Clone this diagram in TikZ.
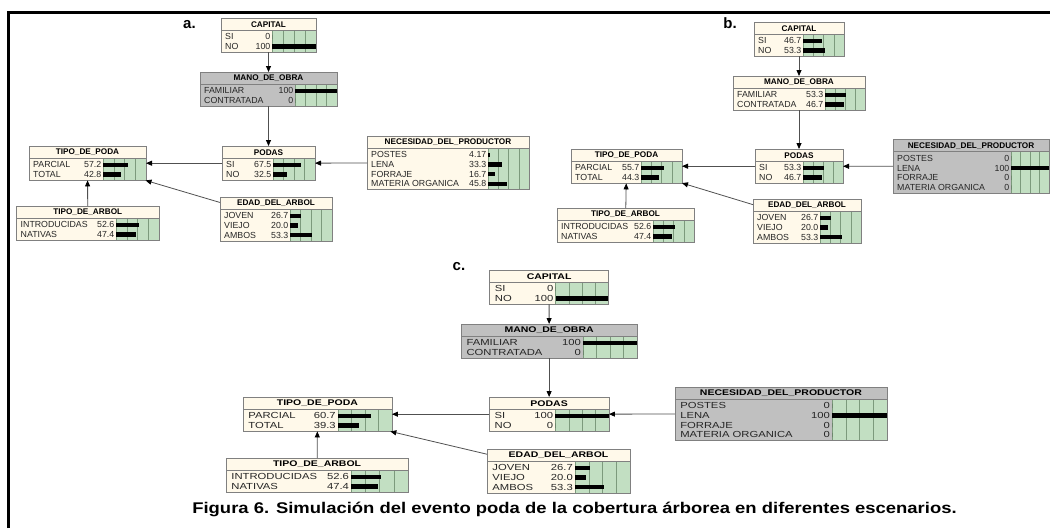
\documentclass[tikz,border=0pt]{standalone}
\usepackage{fontspec}
\setmainfont{Liberation Sans}
\usetikzlibrary{arrows.meta}
\definecolor{cream}{HTML}{FFF9EA}
\definecolor{obsgray}{HTML}{C0C0C0}
\definecolor{beliefbg}{HTML}{C2DFC2}
\definecolor{beliefline}{HTML}{7C9A7C}
\definecolor{boxline}{HTML}{808080}
\definecolor{edgegray}{HTML}{505050}

% one belief box: name, x, y (top), width, label width, rows, fill, title, states
\newcommand{\netbox}[9]{%
  \fill[#7] (#2,#3) rectangle ++(#4,{15+#6*9.7});
  \fill[beliefbg] ({#2+#5},#3+12) rectangle ({#2+#4},{#3+15+#6*9.7});
  \foreach \k in {0,1,2,3}
    \draw[beliefline] ({#2+#5+\k*(#4-#5)/4},#3+12) -- ++(0,{3+#6*9.7});
  \draw[boxline] (#2,#3+12) -- ++(#4,0);
  \node[hdtxt] (#1-t) at ({#2+#4/2},#3+6.2) {#8};
  \foreach \lab/\val/\pct [count=\i] in {#9} {
    \node[rowtxt, anchor=west] (#1-l\i) at (#2+4,{#3+14+(\i-0.5)*9.7}) {\lab};
    \node[rowtxt, anchor=east] (#1-v\i) at ({#2+#5-1.5},{#3+14+(\i-0.5)*9.7}) {\val};
    \fill ({#2+#5},{#3+11.8+(\i-0.5)*9.7}) rectangle ++({\pct*(#4-#5)/100},4.4);
  }
  \node[nbox, minimum width=#4pt, minimum height={15pt+#6*9.7pt}, anchor=north west] (#1) at (#2,#3) {};
}

\begin{document}
\begin{tikzpicture}[x=1pt, y=-1pt,
    nbox/.style={draw=boxline, line width=0.8pt, inner sep=0pt, outer sep=0pt},
    hdtxt/.style={inner sep=0pt, font=\fontsize{8.2}{9}\selectfont\bfseries},
    rowtxt/.style={inner sep=0pt, text=black!85, font=\fontsize{8.8}{9}\selectfont},
    panlbl/.style={inner sep=0pt, font=\fontsize{15}{16}\selectfont\bfseries},
    edge/.style={draw=edgegray, line width=0.8pt, -{Triangle[length=6pt,width=5pt,color=black]}}]
  \useasboundingbox (0,0) rectangle (1050,528);
  \draw[line width=3pt] (8.3,528) -- (8.3,12.5) -- (1050,12.5);

  % Scenario a
  \node[panlbl] (labA) at (189.5,24.5) {a.};
  \netbox{capA}{221}{18}{95}{51}{2}{cream}{CAPITAL}{SI/0/0, NO/100/100}
  \netbox{manoA}{200}{72}{137}{95}{2}{obsgray}{MANO\_DE\_OBRA}{FAMILIAR/100/100, CONTRATADA/0/0}
  \netbox{podasA}{222}{146}{93}{51}{2}{cream}{PODAS}{SI/67.5/67.5, NO/32.5/32.5}
  \netbox{tpodaA}{29}{146}{117}{74}{2}{cream}{TIPO\_DE\_PODA}{PARCIAL/57.2/57.2, TOTAL/42.8/42.8}
  \netbox{necA}{367}{136}{162}{121}{4}{cream}{NECESIDAD\_DEL\_PRODUCTOR}{POSTES/4.17/4.17, LENA/33.3/33.3, FORRAJE/16.7/16.7, MATERIA ORGANICA/45.8/45.8}
  \netbox{tarbolA}{16.5}{206}{142.5}{99.5}{2}{cream}{TIPO\_DE\_ARBOL}{INTRODUCIDAS/52.6/52.6, NATIVAS/47.4/47.4}
  \netbox{edadA}{220}{197}{112}{70}{3}{cream}{EDAD\_DEL\_ARBOL}{JOVEN/26.7/26.7, VIEJO/20.0/20.0, AMBOS/53.3/53.3}

  % Scenario b
  \node[panlbl] (labB) at (730,23.5) {b.};
  \netbox{capB}{754}{22}{90}{49}{2}{cream}{CAPITAL}{SI/46.7/46.7, NO/53.3/53.3}
  \netbox{manoB}{733}{76}{132}{92}{2}{cream}{MANO\_DE\_OBRA}{FAMILIAR/53.3/53.3, CONTRATADA/46.7/46.7}
  \netbox{podasB}{755}{149}{88}{48}{2}{cream}{PODAS}{SI/53.3/53.3, NO/46.7/46.7}
  \netbox{tpodaB}{571}{149}{111}{70}{2}{cream}{TIPO\_DE\_PODA}{PARCIAL/55.7/55.7, TOTAL/44.3/44.3}
  \netbox{necB}{893}{139.5}{156}{118}{4}{obsgray}{NECESIDAD\_DEL\_PRODUCTOR}{POSTES/0/0, LENA/100/100, FORRAJE/0/0, MATERIA ORGANICA/0/0}
  \netbox{tarbolB}{557}{208}{137}{96}{2}{cream}{TIPO\_DE\_ARBOL}{INTRODUCIDAS/52.6/52.6, NATIVAS/47.4/47.4}
  \netbox{edadB}{753}{199}{108}{67}{3}{cream}{EDAD\_DEL\_ARBOL}{JOVEN/26.7/26.7, VIEJO/20.0/20.0, AMBOS/53.3/53.3}

  % Scenario c (wider boxes)
  \node[panlbl] (labC) at (459,266.5) {c.};
  \begin{scope}[xscale=1.28, transform shape]
    \netbox{capC}{382.5}{270}{93}{51.6}{2}{cream}{CAPITAL}{SI/0/0, NO/100/100}
    \netbox{manoC}{360.25}{324}{137.5}{95.3}{2}{obsgray}{MANO\_DE\_OBRA}{FAMILIAR/100/100, CONTRATADA/0/0}
    \netbox{podasC}{382.25}{397}{93.5}{51.6}{2}{cream}{PODAS}{SI/100/100, NO/0/0}
    \netbox{tpodaC}{189.8}{397}{116.4}{74.2}{2}{cream}{TIPO\_DE\_PODA}{PARCIAL/60.7/60.7, TOTAL/39.3/39.3}
    \netbox{necC}{527.3}{387}{165.6}{122.7}{4}{obsgray}{NECESIDAD\_DEL\_PRODUCTOR}{POSTES/0/0, LENA/100/100, FORRAJE/0/0, MATERIA ORGANICA/0/0}
    \netbox{tarbolC}{176.6}{458}{142.2}{97.7}{2}{cream}{TIPO\_DE\_ARBOL}{INTRODUCIDAS/52.6/52.6, NATIVAS/47.4/47.4}
    \netbox{edadC}{380.5}{449}{111.7}{68.75}{3}{cream}{EDAD\_DEL\_ARBOL}{JOVEN/26.7/26.7, VIEJO/20.0/20.0, AMBOS/53.3/53.3}
  \end{scope}

  % Links of the network, same in every scenario
  \foreach \p in {A,B,C} {
    \draw[edge] (cap\p) -- (mano\p);
    \draw[edge] (mano\p) -- (podas\p);
    \draw[edge] (podas\p) -- (tpoda\p);
    \draw[edge] (nec\p) -- (podas\p);
    \draw[edge] (tarbol\p) -- (tpoda\p);
    \draw[edge] (edad\p) -- (tpoda\p);
  }

  % Caption
  \node[anchor=base, inner sep=0pt, font=\fontsize{15.5}{17}\selectfont\bfseries] (caption) at (574.5,513)
    {\scalebox{1.19}[1]{Figura 6. Simulación del evento poda de la cobertura árborea en diferentes escenarios.}};
\end{tikzpicture}
\end{document}
